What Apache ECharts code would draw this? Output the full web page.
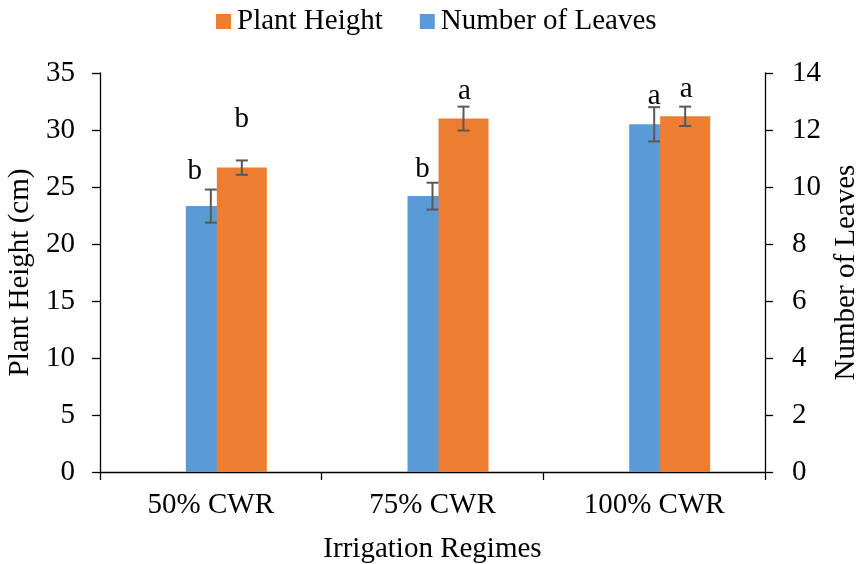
<!DOCTYPE html>
<html>
<head>
<meta charset="utf-8">
<script src="https://cdn.jsdelivr.net/npm/echarts@6/dist/echarts.min.js"></script>
<style>
  html, body { margin: 0; padding: 0; background: #fff; }
  #chart { width: 856px; height: 564px; }
</style>
</head>
<body>
<div id="chart"></div>
<script>
// Irrigation regimes on the category axis
const categories = ['50% CWR', '75% CWR', '100% CWR'];

// Plant height (cm), left axis
const plantHeight = [26.7, 31.0, 31.2];
const plantHeightErr = [0.63, 1.05, 0.85];
const plantHeightLetters = ['b', 'a', 'a'];

// Number of leaves, right axis
const leaves = [9.33, 9.68, 12.2];
const leavesErr = [0.58, 0.47, 0.6];
const leavesLetters = ['b', 'b', 'a'];

// Axis ranges
const heightAxis = { min: 0, max: 35, interval: 5 };
const leavesAxis = { min: 0, max: 14, interval: 2 };

// ---- styling ----
const FONT = '"Liberation Serif", "Times New Roman", serif';
const FS = 29;
const ORANGE = '#ED7D31';
const BLUE = '#5B9BD5';
const ERR = '#595959';
const BAR_W = 50;
const BAR_GAP = -0.38;                       // overlap between neighbouring bars
const STEP = BAR_W * (1 + BAR_GAP);          // centre-to-centre distance of bars
// letter placement tweaks: [dx, gap above error cap]
const leavesNudge = [[-16, 4], [-10, -1], [0, -4]];
const heightNudge = [[0, 27], [1, 1], [1, 3]];

function errorSeries(values, errs, letters, yAxisIndex, xShift, nudges) {
  return {
    type: 'custom',
    yAxisIndex: yAxisIndex,
    z: 5,
    silent: true,
    data: values.map((v, i) => [i, v, errs[i]]),
    renderItem: function (params, api) {
      const i = api.value(0), v = api.value(1), e = api.value(2);
      const hi = api.coord([i, v + e]);
      const lo = api.coord([i, v - e]);
      const x = hi[0] + xShift;
      const cap = 6;
      const nd = nudges[params.dataIndex];
      const ls = { stroke: ERR, lineWidth: 2 };
      return {
        type: 'group',
        children: [
          { type: 'line', shape: { x1: x, y1: hi[1], x2: x, y2: lo[1] }, style: ls },
          { type: 'line', shape: { x1: x - cap, y1: hi[1], x2: x + cap, y2: hi[1] }, style: ls },
          { type: 'line', shape: { x1: x - cap, y1: lo[1], x2: x + cap, y2: lo[1] }, style: ls },
          {
            type: 'text',
            x: x + nd[0],
            y: hi[1] - nd[1],
            style: {
              text: letters[params.dataIndex],
              font: FS + 'px ' + FONT,
              fill: '#000',
              align: 'center',
              verticalAlign: 'bottom'
            }
          }
        ]
      };
    }
  };
}

const axisText = { color: '#000', fontFamily: FONT, fontSize: FS };
const axisLine = { show: true, lineStyle: { color: '#000', width: 1.3 } };
const axisTick = { show: true, length: 8, lineStyle: { color: '#000', width: 1.3 } };

const chart = echarts.init(document.getElementById('chart'), null, { renderer: 'canvas' });
chart.setOption({
  animation: false,
  backgroundColor: '#fff',
  textStyle: { fontFamily: FONT },
  legend: {
    data: ['Plant Height', 'Number of Leaves'],
    top: 2,
    left: 211,
    itemWidth: 15,
    itemHeight: 15,
    itemGap: 37,
    icon: 'rect',
    textStyle: { color: '#000', fontFamily: FONT, fontSize: FS, padding: [0, 0, 0, 1] }
  },
  grid: { left: 100, right: 91, top: 73, bottom: 92, containLabel: false, outerBoundsMode: 'none' },
  xAxis: {
    type: 'category',
    data: categories,
    boundaryGap: true,
    axisLine: axisLine,
    axisTick: Object.assign({ alignWithLabel: false }, axisTick),
    axisLabel: Object.assign({ margin: 19 }, axisText),
    name: 'Irrigation Regimes',
    nameLocation: 'middle',
    nameGap: 63,
    nameTextStyle: axisText
  },
  yAxis: [
    {
      type: 'value',
      position: 'left',
      min: heightAxis.min, max: heightAxis.max, interval: heightAxis.interval,
      splitLine: { show: false },
      axisLine: axisLine,
      axisTick: axisTick,
      axisLabel: Object.assign({ margin: 25 }, axisText),
      name: 'Plant Height (cm)',
      nameLocation: 'middle',
      nameRotate: 90,
      nameGap: 63,
      nameTextStyle: axisText
    },
    {
      type: 'value',
      position: 'right',
      min: leavesAxis.min, max: leavesAxis.max, interval: leavesAxis.interval,
      splitLine: { show: false },
      axisLine: axisLine,
      axisTick: axisTick,
      axisLabel: Object.assign({ margin: 27 }, axisText),
      name: 'Number of Leaves',
      nameLocation: 'middle',
      nameRotate: 90,
      nameGap: 62,
      nameTextStyle: axisText
    }
  ],
  series: [
    // empty slot so that the leaves bar sits at the category centre
    { type: 'bar', name: 'spacer', data: [], barWidth: BAR_W, barGap: (BAR_GAP * 100) + '%', silent: true },
    {
      type: 'bar', name: 'Number of Leaves', yAxisIndex: 1,
      data: leaves, barWidth: BAR_W, barGap: (BAR_GAP * 100) + '%',
      itemStyle: { color: BLUE }
    },
    {
      type: 'bar', name: 'Plant Height', yAxisIndex: 0,
      data: plantHeight, barWidth: BAR_W, barGap: (BAR_GAP * 100) + '%',
      itemStyle: { color: ORANGE }
    },
    errorSeries(leaves, leavesErr, leavesLetters, 1, 0, leavesNudge),
    errorSeries(plantHeight, plantHeightErr, plantHeightLetters, 0, STEP, heightNudge)
  ]
});
</script>
</body>
</html>
